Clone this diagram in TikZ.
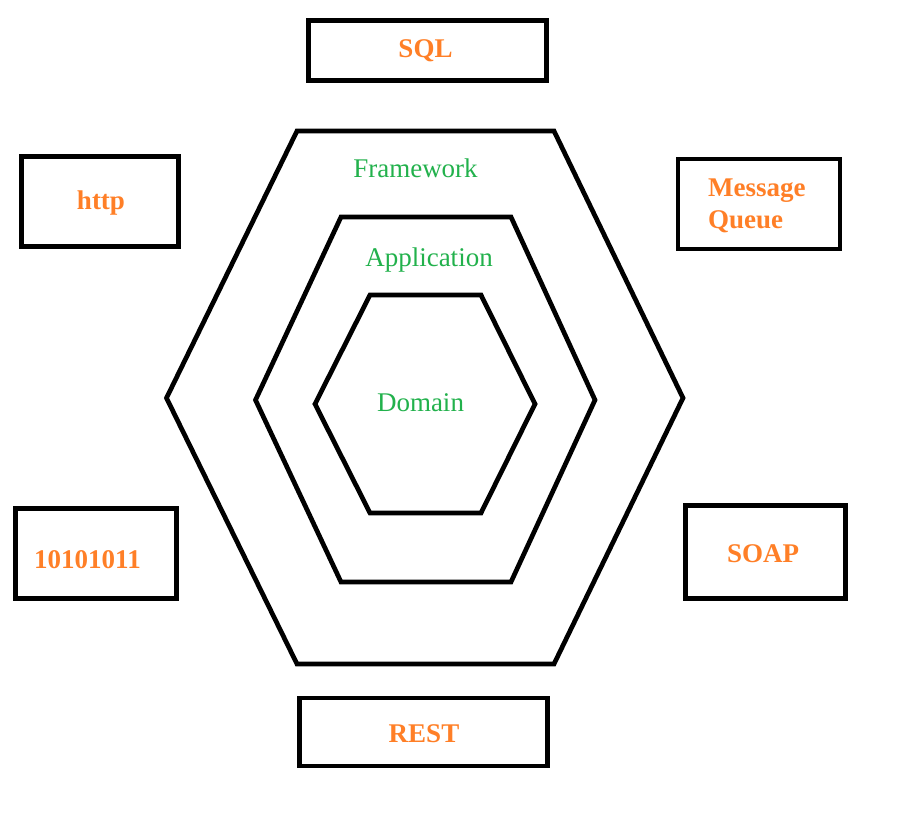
\documentclass[tikz,border=0pt]{standalone}
\usepackage{fontspec}
\setmainfont{Liberation Serif}
\definecolor{portorange}{HTML}{FF7F27}
\definecolor{layergreen}{HTML}{22B14C}
\begin{document}
\begin{tikzpicture}[x=1pt,y=-1pt,
  hexline/.style={line width=4.7pt,line join=miter},
  portbox/.style={draw,line width=4.7pt,inner sep=0pt},
  port/.style={text=portorange,font=\fontsize{27}{32}\selectfont\bfseries,inner sep=0pt,anchor=base},
  layer/.style={text=layergreen,font=\fontsize{27}{32}\selectfont,inner sep=0pt,anchor=base}]

\useasboundingbox (0,0) rectangle (914,834);

%hexagons
  \draw[hexline] (297,131) -- (554,131) -- (683,398) -- (554,664) -- (297,664) -- (166.5,398) -- cycle;
  \draw[hexline] (341,217) -- (511,217) -- (595,400) -- (511,582) -- (341,582) -- (255.5,400) -- cycle;
  \draw[hexline] (370,295) -- (481,295) -- (535,404) -- (481,513) -- (370,513) -- (315,404) -- cycle;
  \node[layer] (framework) at (415.5,178) {Framework};
  \node[layer] (application) at (429,267) {Application};
  \node[layer] (domain) at (420.5,412) {Domain};

%ports
  \node[portbox,minimum width=238pt,minimum height=60pt] (sql) at (427.5,50.5) {};
  \node[portbox,minimum width=157pt,minimum height=90pt] (http) at (100,201.5) {};
  \node[portbox,minimum width=162pt,minimum height=90pt] (mq) at (759,204) {};
  \node[portbox,minimum width=161pt,minimum height=90pt] (bin) at (96,553.5) {};
  \node[portbox,minimum width=160pt,minimum height=93pt] (soap) at (765.5,552) {};
  \node[portbox,minimum width=248pt,minimum height=68pt] (rest) at (423.5,732) {};
  \node[port] (sqltext) at (425.5,58) {SQL};
  \node[port] (httptext) at (101,210) {http};
  \node[port,anchor=base west,align=left] (mqtext) at (708,229) {Message\\Queue};
  \node[port] (bintext) at (87.5,568) {10101011};
  \node[port] (soaptext) at (763,562) {SOAP};
  \node[port] (resttext) at (424,742) {REST};
 \end{tikzpicture}
\end{document}
